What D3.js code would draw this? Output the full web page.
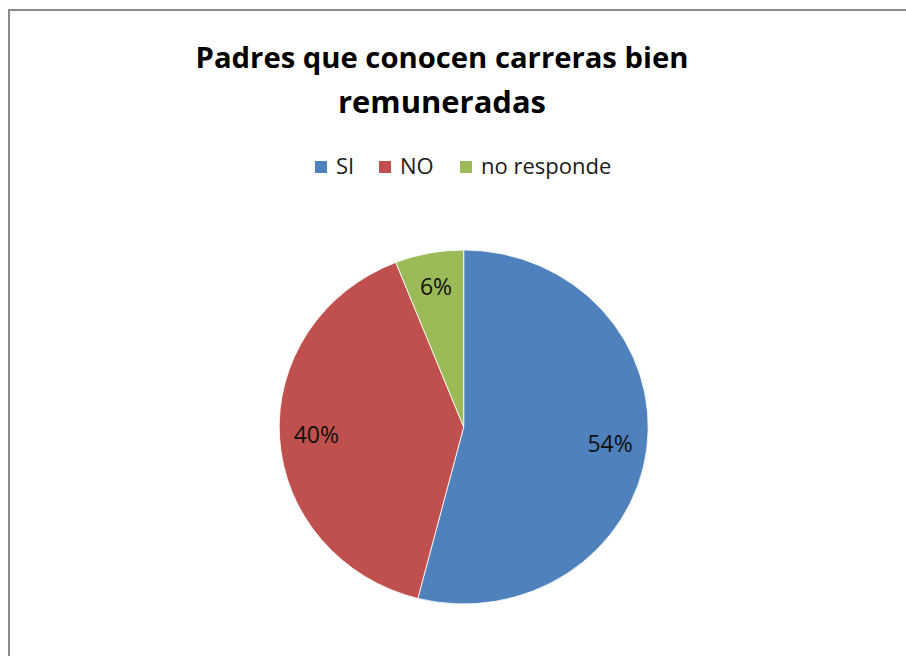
<!DOCTYPE html>
<html>
<head>
<meta charset="utf-8">
<script src="https://cdn.jsdelivr.net/npm/d3@7"></script>
<style>
  body { margin: 0; background: #fff; }
  text { font-family: "Open Sans", "Noto Sans", sans-serif; }
</style>
</head>
<body>
<svg id="svgMain" width="906" height="656"></svg>
<script>
// data
const categories = ["SI", "NO", "no responde"];
const values = [54, 40, 6];
const colors = ["#4F81BD", "#C0504D", "#9BBB59"];
const titleLines = ["Padres que conocen carreras bien", "remuneradas"];

let svgMain = d3.select("#svgMain");

// chart frame (only top/left visible in the picture)
svgMain.append("rect")
    .attr("x", 9)
    .attr("y", 10)
    .attr("width", 1000)
    .attr("height", 1000)
    .style("fill", "#fff")
    .style("stroke", "#8a8a8a")
    .style("stroke-width", 2);

// Title
const titleX = 442;
const titleWidths = [493, 208];
titleLines.forEach((t, i) => {
    let txt = svgMain.append("text")
        .attr("x", titleX)
        .attr("y", 68 + i * 45)
        .attr("font-size", "30px")
        .attr("font-weight", "bold")
        .attr("text-anchor", "middle")
        .style("fill", "#000")
        .text(t);
    // fit to the width seen in the picture
    let w = txt.node().getComputedTextLength();
    txt.attr("font-size", (30 * titleWidths[i] / w) + "px");
});

// Legend
const legendX = [315, 379, 460];
const legend = svgMain.append("g");
categories.forEach((c, i) => {
    legend.append("rect")
        .attr("x", legendX[i])
        .attr("y", 161)
        .attr("width", 12)
        .attr("height", 12)
        .style("fill", colors[i]);
    legend.append("text")
        .attr("x", legendX[i] + 21)
        .attr("y", 174)
        .attr("font-size", "22px")
        .style("fill", "#1a1a1a")
        .text(c);
});

// Pie
const cx = 463.7, cy = 427, r = 177, sx = 184.5 / 177;
const pie = d3.pie().sort(null).value(d => d.value);
const pieData = pie(categories.map((c, i) => ({ name: c, value: values[i], color: colors[i] })));
const arc = d3.arc().innerRadius(0).outerRadius(r);
const labelArc = d3.arc().innerRadius(r * 0.8).outerRadius(r * 0.8);

const plot = svgMain.append("g")
    .attr("transform", "translate(" + cx + "," + cy + ") scale(" + sx + ",1)");

plot.selectAll("path")
    .data(pieData)
    .enter().append("path")
    .attr("d", arc)
    .style("fill", d => d.data.color)
    .style("stroke", "#fff")
    .style("stroke-width", 0.8);

// data labels
const total = d3.sum(values);
svgMain.selectAll(".lbl")
    .data(pieData)
    .enter().append("text")
    .attr("class", "lbl")
    .attr("x", d => cx + labelArc.centroid(d)[0] * sx)
    .attr("y", d => cy + labelArc.centroid(d)[1])
    .attr("dy", "0.3em")
    .attr("font-size", "23px")
    .attr("text-anchor", "middle")
    .style("fill", "#111")
    .text(d => Math.round(d.data.value / total * 100) + "%");
</script>
</body>
</html>
